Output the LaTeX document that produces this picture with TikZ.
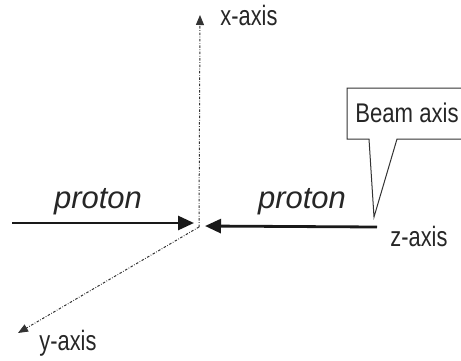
\documentclass[tikz,border=0pt]{standalone}
\usepackage{fontspec}
\setmainfont{Liberation Sans}
\usetikzlibrary{arrows.meta}
\begin{document}
\begin{tikzpicture}[x=1pt,y=-1pt,
  axis/.style={line width=1pt, dash pattern=on 2.5pt off 1.6pt on 0.7pt off 1.6pt, black!80, -{Triangle[length=10pt,width=8pt]}},
  beam/.style={line width=2.8pt, black!90, -{Triangle[length=16pt,width=14pt]}},
  axlabel/.style={font=\fontsize{28}{28}\selectfont, text=black!85, inner sep=0pt, xscale=0.78},
  plabel/.style={font=\fontsize{31}{31}\selectfont\itshape, text=black!85, inner sep=0pt},
  callout/.style={line width=1pt, black!80}]
\useasboundingbox (0,0) rectangle (461,360);
\clip (0,0) rectangle (461,360);
\coordinate (O) at (199,227);
\coordinate (xtip) at (200,15);
\coordinate (ytip) at (18,333);
\coordinate (lstart) at (12,223);
\coordinate (ltip) at (194,223);
\coordinate (rstart) at (377,227);
\coordinate (rtip) at (205,226);
% axes
\draw[axis] (O) -- (xtip);
\draw[axis] (O) -- (ytip);
% beams
\draw[beam] (lstart) -- (ltip);
\draw[beam] (rstart) -- (rtip);
% labels
\node[axlabel] (xl) at (249,15) {x-axis};
\node[axlabel] (yl) at (68,343) {y-axis};
\node[axlabel] (zl) at (419,236) {z-axis};
\node[plabel] (p1) at (98,202) {proton};
\node[plabel] (p2) at (302,202) {proton};
% callout
\draw[callout, fill=white] (470,88) -- (347,88) -- (347,139) -- (369,139) -- (374,217) -- (397,139) -- (470,139);
\node[font=\fontsize{27}{27}\selectfont, text=black!85, inner sep=0pt, xscale=0.82] (beamtxt) at (407,113) {Beam axis};
\end{tikzpicture}
\end{document}
